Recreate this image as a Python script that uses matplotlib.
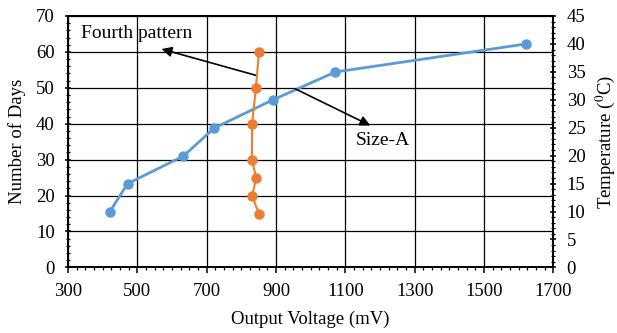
import matplotlib

matplotlib.use("Agg")
import matplotlib.pyplot as plt
from matplotlib.ticker import MultipleLocator

# Size-A: output voltage (mV) vs number of days
size_a_voltage = [421, 472, 633, 722, 890, 1071, 1620]
size_a_days = [15.5, 23.3, 31.0, 38.8, 46.6, 54.4, 62.2]

# Fourth pattern: output voltage (mV) vs temperature (degC)
fourth_voltage = [851, 831, 843, 831, 831, 842, 851]
fourth_temp = [9.6, 12.8, 16.0, 19.2, 25.6, 32.1, 38.5]

x_ticks = [300, 500, 700, 900, 1100, 1300, 1500, 1700]

plt.rcParams["font.family"] = ["Liberation Serif", "DejaVu Serif"]
plt.rcParams["mathtext.fontset"] = "stix"
plt.rcParams["font.size"] = 13.5

fig = plt.figure(figsize=(6.17, 3.33), dpi=100)
ax = fig.add_axes([0.110, 0.197, 0.787, 0.755])
ax2 = ax.twinx()

ax.set_xlim(300, 1700)
ax.set_ylim(0, 70)
ax2.set_ylim(0, 45)
ax.set_xticks(x_ticks)
ax.xaxis.set_minor_locator(MultipleLocator(25))
ax.yaxis.set_major_locator(MultipleLocator(10))
ax.yaxis.set_minor_locator(MultipleLocator(2))
ax2.yaxis.set_major_locator(MultipleLocator(5))
ax2.yaxis.set_minor_locator(MultipleLocator(1))

ax.grid(True, which="major", color="black", linewidth=0.9)
ax.set_axisbelow(True)

for a in (ax, ax2):
    for s in a.spines.values():
        s.set_color("black")
        s.set_linewidth(1.3)
    a.tick_params(which="major", length=4, width=1.1, colors="black", pad=7)
    a.tick_params(which="minor", length=2.5, width=0.9, colors="black")
    a.tick_params(axis="y", which="major", direction="inout", length=5)
    a.tick_params(axis="y", which="minor", direction="inout", length=3.5)

ax.plot(size_a_voltage, size_a_days, color="#5B9BD5", linewidth=2,
        marker="o", markersize=6.5, zorder=3)
ax2.plot(fourth_voltage, fourth_temp, color="#ED7D31", linewidth=1.5,
         marker="o", markersize=6.5, zorder=3)

ax.set_xlabel("Output Voltage (mV)", labelpad=8)
ax.set_ylabel("Number of Days", labelpad=7)
ax2.set_ylabel("Temperature ($^0$C)", labelpad=6)

ax.annotate("", xy=(570, 60.8), xytext=(845, 53.4),
            arrowprops=dict(arrowstyle="-|>", color="black", lw=1.2,
                            mutation_scale=15, shrinkA=0, shrinkB=0))
ax.annotate("", xy=(1172, 39.5), xytext=(956, 49.7),
            arrowprops=dict(arrowstyle="-|>", color="black", lw=1.2,
                            mutation_scale=15, shrinkA=0, shrinkB=0))
ax.text(339, 65, "Fourth pattern", ha="left", va="center", fontsize=14)
ax.text(1129, 35.4, "Size-A", ha="left", va="center", fontsize=14)

fig.savefig("out.png", dpi=100)
